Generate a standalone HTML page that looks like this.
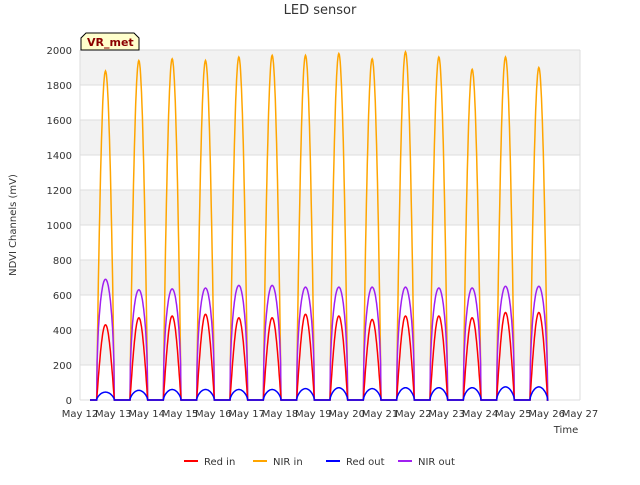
<!DOCTYPE html>
<html><head><meta charset="utf-8"><style>
body{margin:0;background:#fff;font-family:"Liberation Sans","DejaVu Sans",sans-serif}
</style></head><body>
<svg id="c" width="640" height="480" xmlns="http://www.w3.org/2000/svg" font-family="DejaVu Sans, Liberation Sans, sans-serif">
<text x="320" y="14" text-anchor="middle" font-size="13" fill="#333">LED sensor</text>
<g id="grid"></g>
<g id="series"></g>
<g id="axes"></g>
<text x="16" y="225" transform="rotate(-90 16 225)" text-anchor="middle" font-size="10" fill="#333">NDVI Channels (mV)</text>
<text x="566" y="433" text-anchor="middle" font-size="10" fill="#333">Time</text>
<g>
<path d="M81,50 L81,38 L86,33 L134,33 L139,38 L139,50 Z" fill="#ffffcc" stroke="#000" stroke-width="1"/>
<text x="87" y="46" font-size="11" font-weight="bold" fill="#8b0000">VR_met</text>
</g>
<g id="legend"></g>
</svg>
<script>
const days=[12,13,14,15,16,17,18,19,20,21,22,23,24,25];
const nirIn=[1880,1940,1950,1940,1960,1970,1970,1980,1950,1990,1960,1890,1960,1900];
const redIn=[430,470,480,490,470,470,490,480,460,480,480,470,500,500];
const nirOut=[690,630,635,640,655,655,645,645,645,645,640,640,650,650];
const redOut=[45,55,60,60,60,60,65,70,65,70,70,70,75,75];
const yTicks=[0,200,400,600,800,1000,1200,1400,1600,1800,2000];
const xTicks=[12,13,14,15,16,17,18,19,20,21,22,23,24,25,26,27];
const NS="http://www.w3.org/2000/svg";
const X0=80,X1=580,Y0=400,Y1=50;
const xs=d=>X0+(d-12)/(27-12)*(X1-X0);
const ys=v=>Y0-v/2000*(Y0-Y1);
function mk(t,a,p){const e=document.createElementNS(NS,t);for(const k in a)e.setAttribute(k,a[k]);p.appendChild(e);return e;}
const grid=document.getElementById('grid'),axes=document.getElementById('axes'),ser=document.getElementById('series'),leg=document.getElementById('legend');
for(let i=0;i<yTicks.length-1;i++){
 if(i%2==1){const r=mk('rect',{x:X0,y:ys(yTicks[i+1]),width:X1-X0,height:ys(yTicks[i])-ys(yTicks[i+1]),fill:'#f2f2f2'},grid);
 
 }
}
yTicks.forEach(v=>{
 const l=mk('line',{x1:X0,x2:X1,y1:ys(v),y2:ys(v),stroke:'#ddd','stroke-width':1},grid);
 
 
 const t=mk('text',{x:X0-8,y:ys(v)+4,'text-anchor':'end','font-size':10,fill:'#333'},axes);
 t.textContent=v;
 
 
});
mk('line',{x1:X0,x2:X0,y1:Y1,y2:Y0,stroke:'#ddd'},grid);
mk('line',{x1:X1,x2:X1,y1:Y1,y2:Y0,stroke:'#ddd'},grid);
xTicks.forEach(d=>{
 const t=mk('text',{x:xs(d),y:Y0+17,'text-anchor':'middle','font-size':10,fill:'#333'},axes);
 t.textContent='May '+d;
 
 
});
function path(vals,pw){
 let pts=[[xs(days[0]+0.3),ys(0)]];
 days.forEach((d,i)=>{
  const s=d+0.5,e=d+1.03;
  pts.push([xs(s),ys(0)]);
  for(let k=1;k<40;k++){const t=k/40;pts.push([xs(s+t*(e-s)),ys(vals[i]*Math.pow(Math.sin(Math.PI*t),pw))]);}
  pts.push([xs(e),ys(0)]);
 });
 pts.push([xs(26),ys(0)]);
 return 'M'+pts.map(p=>p[0].toFixed(1)+','+p[1].toFixed(1)).join(' L');
}
const S=[['nir-in-line',nirIn,'#ffa500',0.85,'NIR in'],['nir-out-line',nirOut,'#a020f0',0.45,'NIR out'],['red-in-line',redIn,'#ff0000',1.0,'Red in'],['red-out-line',redOut,'#0000ff',0.6,'Red out']];
S.forEach(s=>{
 const p=mk('path',{d:path(s[1],s[3]),fill:'none',stroke:s[2],'stroke-width':1.5},ser);
 
 
});
const L=[['Red in','#ff0000',184],['NIR in','#ffa500',253],['Red out','#0000ff',326],['NIR out','#a020f0',398]];
L.forEach(l=>{
 const g=mk('g',{},leg);
 
 
 mk('line',{x1:l[2],x2:l[2]+14,y1:461,y2:461,stroke:l[1],'stroke-width':2},g);
 const t=mk('text',{x:l[2]+20,y:465,'font-size':10,fill:'#333'},g);
 t.textContent=l[0];
});
</script>
</body></html>
